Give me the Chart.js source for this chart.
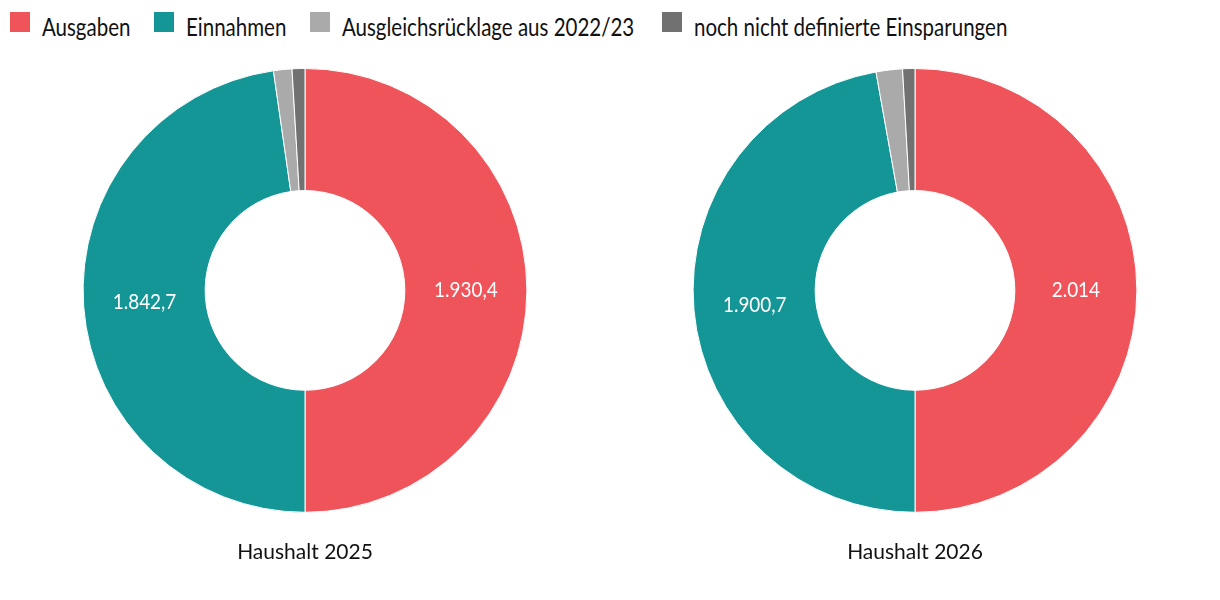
<!DOCTYPE html>
<html><head><meta charset="utf-8">
<script src="https://cdn.jsdelivr.net/npm/chart.js@4.4.1/dist/chart.umd.min.js"></script>
<style>
html,body{margin:0;padding:0;background:#fff;width:1220px;height:600px;overflow:hidden;font-family:Lato,"Open Sans",sans-serif;}
#legend{position:absolute;left:0;top:0;width:1220px;height:50px;font-size:25px;color:#111;font-family:Lato,"Open Sans",sans-serif;}
.box{position:absolute;top:12px;width:20px;height:20px;}
.txt{position:absolute;top:11px;line-height:30px;white-space:nowrap;transform:scaleX(0.82);transform-origin:0 50%;}
.wrap{position:absolute;top:68px;width:610px;height:497px;}
</style></head>
<body>
<div id="legend"></div>
<div class="wrap" style="left:0"><canvas id="c1"></canvas></div>
<div class="wrap" style="left:610px"><canvas id="c2"></canvas></div>
<script>
const categories = ["Ausgaben","Einnahmen","Ausgleichsrücklage aus 2022/23","noch nicht definierte Einsparungen"];
const colors = ["#EF545B","#149696","#AAAAAA","#717171"];
const titles = ["Haushalt 2025","Haushalt 2026"];
const values2025 = [1930.4, 1842.7, 51.7, 36.0];
const values2026 = [2014.0, 1900.7, 77.3, 36.0];
const labels2025 = ["1.930,4","1.842,7","",""];
const labels2026 = ["2.014","1.900,7","",""];
const legendBoxX = [10,154,310,662];

const leg = document.getElementById('legend');
categories.forEach((c,i)=>{
  const b=document.createElement('div');b.className='box';b.style.background=colors[i];b.style.left=legendBoxX[i]+'px';
  const t=document.createElement('span');t.className='txt';t.textContent=c;t.style.left=(legendBoxX[i]+32)+'px';
  leg.appendChild(b);leg.appendChild(t);
});

const valueLabels = {
  id:'valueLabels',
  afterDatasetsDraw(chart, args, opts){
    const ctx=chart.ctx; const meta=chart.getDatasetMeta(0);
    meta.data.forEach((arc,i)=>{
      const txt=opts.texts[i]; if(!txt) return;
      const p=arc.tooltipPosition();
      ctx.save();
      ctx.font='22px Lato, "Open Sans", sans-serif';
      ctx.fillStyle='#fff';ctx.textAlign='center';ctx.textBaseline='middle';
      ctx.translate(p.x,p.y);ctx.scale(0.86,1);
      ctx.fillText(txt,0,0);
      ctx.restore();
    });
  }
};

function make(id, values, texts, title){
  new Chart(document.getElementById(id),{
    type:'doughnut',
    data:{labels:categories,datasets:[{data:values,backgroundColor:colors,borderColor:'#fff',borderWidth:1}]},
    options:{
      responsive:true,maintainAspectRatio:false,animation:false,
      cutout:'45%',
      layout:{padding:0},
      plugins:{
        legend:{display:false},tooltip:{enabled:false},
        title:{display:true,text:title,position:'bottom',color:'#111',
          font:{family:'Lato, "Open Sans", sans-serif',size:21,weight:'normal'},padding:{top:27,bottom:0}},
        valueLabels:{texts:texts}
      }
    },
    plugins:[valueLabels]
  });
}
make('c1',values2025,labels2025,titles[0]);
make('c2',values2026,labels2026,titles[1]);
</script>
</body></html>
